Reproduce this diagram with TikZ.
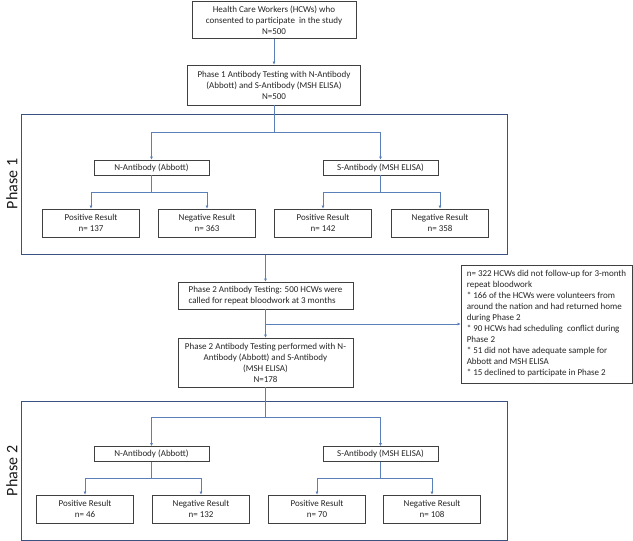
\documentclass[tikz,border=0pt]{standalone}
\usepackage{fontspec}
\setmainfont{Carlito}
\usetikzlibrary{arrows.meta}
\definecolor{lineblue}{HTML}{5B7FB8}
\definecolor{framenavy}{HTML}{3A5282}

\begin{document}
\begin{tikzpicture}[x=1pt, y=-1pt,
  box/.style={draw=black!75, line width=0.6pt, fill=white, inner sep=3pt, align=center, text=black!85, font=\fontsize{9}{11}\selectfont},
  result/.style={box, minimum width=97pt, minimum height=28pt},
  antibody/.style={box, minimum width=115pt, minimum height=15pt, inner sep=1pt},
  phase/.style={draw=framenavy, line width=1pt},
  phaselabel/.style={rotate=90, text=black!90, font=\fontsize{16}{16}\selectfont},
  arr/.style={draw=lineblue, line width=0.7pt, -{Latex[length=3.2pt,width=3pt]}}]
\useasboundingbox (0,0) rectangle (633,541);

\node[phase, minimum width=486pt, minimum height=140pt] (phaseone) at (264,184) {};
\node[phase, minimum width=486pt, minimum height=139pt] (phasetwo) at (264,470.5) {};
\node[phaselabel] (labelone) at (12,184) {Phase 1};
\node[phaselabel] (labeltwo) at (12,471) {Phase 2};

\node[box, minimum width=164pt, minimum height=37pt] (hcw) at (274,20)
  {Health Care Workers (HCWs) who\\consented to participate~ in the study\\N=500};
\node[box, minimum width=173pt, minimum height=40pt] (testone) at (274,85)
  {Phase 1 Antibody Testing with N-Antibody\\(Abbott) and S-Antibody (MSH ELISA)\\N=500};

\node[antibody] (nabone) at (151.5,167.5) {N-Antibody (Abbott)};
\node[antibody] (sabone) at (380.5,167.5) {S-Antibody (MSH ELISA)};
\node[result] (posonea) at (91,223) {Positive Result\\n= 137};
\node[result] (negonea) at (207,223) {Negative Result\\n= 363};
\node[result] (posoneb) at (323,223) {Positive Result\\n= 142};
\node[result] (negoneb) at (440,223) {Negative Result\\n= 358};

\node[box, align=left, minimum width=175pt, minimum height=27pt] (callback) at (265.5,295.5)
  {Phase 2 Antibody Testing: 500 HCWs were\\called for repeat bloodwork at 3 months};
\node[box, minimum width=175pt, minimum height=49pt] (testtwo) at (265.5,362.5)
  {Phase 2 Antibody Testing performed with N-\\Antibody (Abbott) and S-Antibody\\(MSH ELISA)\\N=178};
\node[box, align=left, minimum width=171pt, minimum height=118pt] (dropout) at (546.5,324)
  {n= 322 HCWs did not follow-up for 3-month\\repeat bloodwork\\* 166 of the HCWs were volunteers from\\around the nation and had returned home\\during Phase 2\\* 90 HCWs had scheduling~ conflict during\\Phase 2\\* 51 did not have adequate sample for\\Abbott and MSH ELISA\\* 15 declined to participate in Phase 2};

\node[antibody] (nabtwo) at (151.5,454) {N-Antibody (Abbott)};
\node[antibody] (sabtwo) at (380.5,454) {S-Antibody (MSH ELISA)};
\node[result] (postwoa) at (85,509) {Positive Result\\n= 46};
\node[result] (negtwoa) at (201,509) {Negative Result\\n= 132};
\node[result] (postwob) at (317,509) {Positive Result\\n= 70};
\node[result] (negtwob) at (432,509) {Negative Result\\n= 108};

\draw[arr] (hcw) -- (testone);
\draw[arr] (testone.south) -- ++(0,27) -| (nabone);
\draw[arr] (testone.south) -- ++(0,27) -| (sabone);
\draw[arr] (phaseone.south -| callback) -- (callback);
\draw[arr] (callback) -- (testtwo);
\coordinate (split) at (callback.south |- dropout.west);
\draw[arr] (split) -- (dropout);
\draw[arr] (testtwo.south) -- ++(0,30) -| (nabtwo);
\draw[arr] (testtwo.south) -- ++(0,30) -| (sabtwo);
\foreach \a/\p/\n in {nabone/posonea/negonea, sabone/posoneb/negoneb, nabtwo/postwoa/negtwoa, sabtwo/postwob/negtwob}{
  \draw[arr] (\a.south) -- ++(0,17) -| (\p);
  \draw[arr] (\a.south) -- ++(0,17) -| (\n);
}
\end{tikzpicture}
\end{document}
